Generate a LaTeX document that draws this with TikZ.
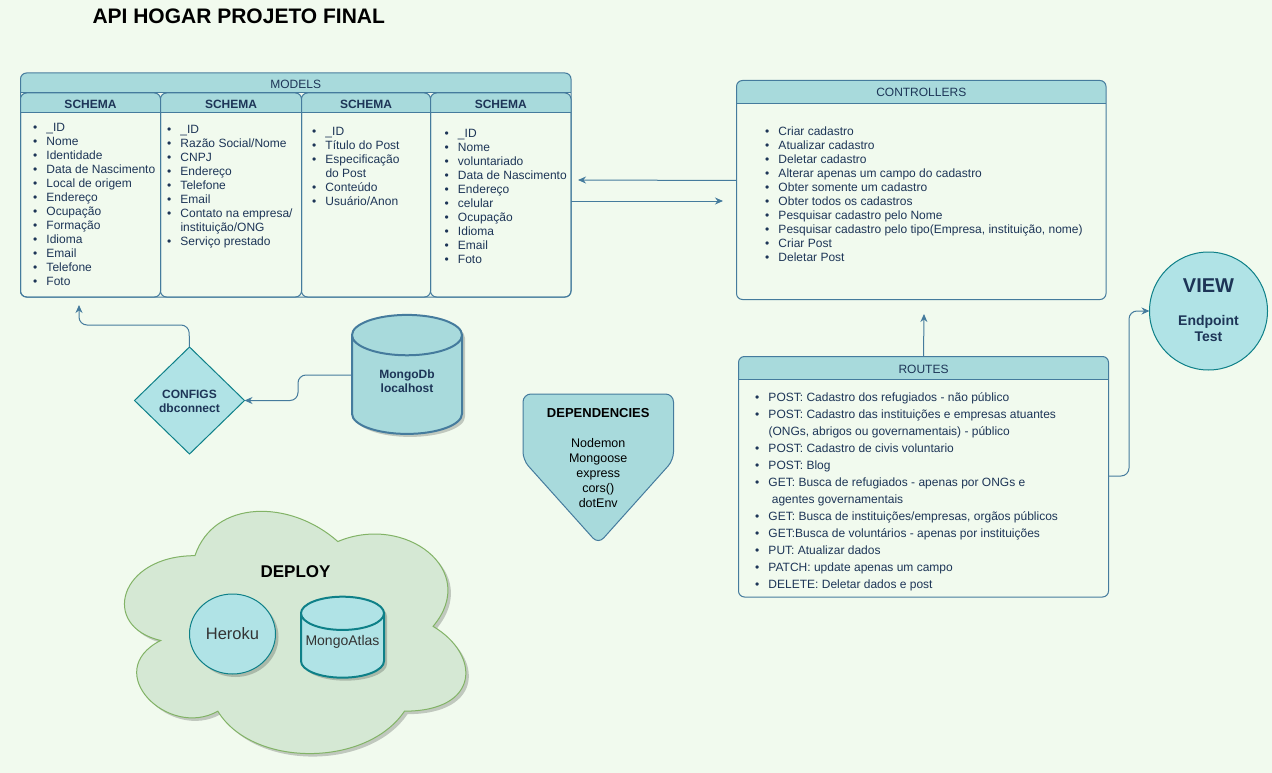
\documentclass[tikz,border=0pt]{standalone}
\usepackage{xcolor}
\usepackage{fontspec}
\setmainfont{Liberation Sans}
\usepackage{tikz}
\usetikzlibrary{arrows.meta,positioning,shapes.geometric,shadows}
\definecolor{pagebg}{HTML}{F1FAEE}
\definecolor{primary}{HTML}{457B9D}
\definecolor{lanefill}{HTML}{A8DADC}
\definecolor{inktext}{HTML}{1D3557}
\definecolor{tealfill}{HTML}{B0E3E6}
\definecolor{tealline}{HTML}{0E8088}
\definecolor{cloudfill}{HTML}{D5E8D4}
\definecolor{cloudline}{HTML}{82B366}
\newcommand{\itm}[1]{\makebox[12.5pt][l]{\hspace*{-1pt}\textbullet}#1}
\newcommand{\itmcont}[1]{\hspace*{12.5pt}#1}

\begin{document}
\begin{tikzpicture}[x=1pt, y=-1pt, line width=1pt, >={Stealth[length=8pt,width=7pt]}]
        % Styles
        \tikzset{softshadow/.style={drop shadow={shadow xshift=3pt, shadow yshift=-3pt, opacity=0.2, fill=black}}}
        \tikzset{lane/.style={rectangle, draw=primary, rounded corners=6pt, outer sep=0pt, inner sep=0pt, path picture={
            \fill[lanefill, sharp corners] (path picture bounding box.north west) rectangle ([yshift=-#1pt]path picture bounding box.north east);
            \draw[primary, sharp corners] ([yshift=-#1pt]path picture bounding box.north west) -- ([yshift=-#1pt]path picture bounding box.north east);}}}
        \tikzset{lanetitle/.style={inner sep=0pt, text=inktext, font=\fontsize{12}{14}\selectfont}}
        \tikzset{listtext/.style={anchor=north west, inner sep=0pt, align=left, text=inktext, font=\fontsize{12}{14}\selectfont}}
        \tikzset{boldtext/.style={align=center, text=inktext, font=\bfseries\fontsize{12}{14}\selectfont}}
        \tikzset{database/.style={cylinder, shape border rotate=90, draw=primary, fill=lanefill, line width=2pt, inner sep=0pt}}
        \tikzset{wire/.style={->, primary, rounded corners=8pt}}

        % Page
        \fill[pagebg] (0,0) rectangle (1272,773);
        \useasboundingbox (0,0) rectangle (1272,773);

        \node[anchor=west, inner sep=0pt, font=\bfseries\fontsize{21}{24}\selectfont] (heading) at (92,16) {API HOGAR PROJETO FINAL};

        % Models
        \node[lane=20, anchor=north west, minimum width=550.5pt, minimum height=224pt] (models) at (20.5,73) {};
        \node[lanetitle, minimum height=22pt, below=0pt of models.north] (modelstitle) {MODELS};
        \node[lane=20, anchor=north west, minimum width=140pt, minimum height=204pt] (schemaa) at (20.5,93) {};
        \node[lane=20, right=0pt of schemaa, minimum width=141pt, minimum height=204pt] (schemab) {};
        \node[lane=20, right=0pt of schemab, minimum width=129pt, minimum height=204pt] (schemac) {};
        \node[lane=20, right=0pt of schemac, minimum width=140.5pt, minimum height=204pt] (schemad) {};
        \node[lanetitle, minimum height=22pt, below=0pt of schemaa.north, font=\bfseries\fontsize{12}{14}\selectfont] (schemaatitle) {SCHEMA};
        \node[lanetitle, minimum height=22pt, below=0pt of schemab.north, font=\bfseries\fontsize{12}{14}\selectfont] (schemabtitle) {SCHEMA};
        \node[lanetitle, minimum height=22pt, below=0pt of schemac.north, font=\bfseries\fontsize{12}{14}\selectfont] (schemactitle) {SCHEMA};
        \node[lanetitle, minimum height=22pt, below=0pt of schemad.north, font=\bfseries\fontsize{12}{14}\selectfont] (schemadtitle) {SCHEMA};

        \node[listtext] (schemaalist) at (33.5,123) {\itm{\_ID}\\\itm{Nome}\\\itm{Identidade}\\\itm{Data de Nascimento}\\\itm{Local de origem}\\\itm{Endereço}\\\itm{Ocupação}\\\itm{Formação}\\\itm{Idioma}\\\itm{Email}\\\itm{Telefone}\\\itm{Foto}};
        \node[listtext] (schemablist) at (167.5,125) {\itm{\_ID}\\\itm{Razão Social/Nome}\\\itm{CNPJ}\\\itm{Endereço}\\\itm{Telefone}\\\itm{Email}\\\itm{Contato na empresa/}\\\itmcont{instituição/ONG}\\\itm{Serviço prestado}};
        \node[listtext] (schemaclist) at (312.5,127) {\itm{\_ID}\\\itm{Título do Post}\\\itm{Especificação}\\\itmcont{do Post}\\\itm{Conteúdo}\\\itm{Usuário/Anon}};
        \node[listtext] (schemadlist) at (445,129) {\itm{\_ID}\\\itm{Nome}\\\itm{voluntariado}\\\itm{Data de Nascimento}\\\itm{Endereço}\\\itm{celular}\\\itm{Ocupação}\\\itm{Idioma}\\\itm{Email}\\\itm{Foto}};

        % Controllers
        \node[lane=23, anchor=north west, minimum width=369.5pt, minimum height=219pt] (controllers) at (736.5,80.5) {};
        \node[lanetitle, minimum height=23pt, below=0pt of controllers.north] (controllerstitle) {CONTROLLERS};
        \node[listtext] (controllerslist) at (765.5,126) {\itm{Criar cadastro}\\\itm{Atualizar cadastro}\\\itm{Deletar cadastro}\\\itm{Alterar apenas um campo do cadastro}\\\itm{Obter somente um cadastro}\\\itm{Obter todos os cadastros}\\\itm{Pesquisar cadastro pelo Nome}\\\itm{Pesquisar cadastro pelo tipo(Empresa, instituição, nome)}\\\itm{Criar Post}\\\itm{Deletar Post}};

        % Routes
        \node[lane=23, anchor=north west, minimum width=370pt, minimum height=240.5pt] (routes) at (738.5,356.5) {};
        \node[lanetitle, minimum height=25pt, below=0pt of routes.north] (routestitle) {ROUTES};
        \node[listtext, font=\fontsize{12}{17}\selectfont] (routeslist) at (755.5,392) {\itm{POST: Cadastro dos refugiados - não público}\\\itm{POST: Cadastro das instituições e empresas atuantes}\\\itmcont{(ONGs, abrigos ou governamentais) - público}\\\itm{POST: Cadastro de civis voluntario}\\\itm{POST: Blog}\\\itm{GET: Busca de refugiados - apenas por ONGs e}\\\itmcont{\ agentes governamentais}\\\itm{GET: Busca de instituições/empresas, orgãos públicos}\\\itm{GET:Busca de voluntários - apenas por instituições}\\\itm{PUT: Atualizar dados}\\\itm{PATCH: update apenas um campo}\\\itm{DELETE: Deletar dados e post}};

        % View
        \node[circle, draw=tealline, fill=tealfill, minimum size=118pt, inner sep=0pt, outer sep=0pt, align=center, text=inktext, font=\bfseries\fontsize{14}{16}\selectfont] (view) at (1208.5,311) {{\fontsize{20}{23}\selectfont VIEW}\\[17pt]Endpoint\\Test\rule[-2pt]{0pt}{1pt}};

        % Configs and database
        \node[diamond, draw=tealline, fill=tealfill, minimum width=110pt, minimum height=107pt, inner sep=0pt, outer sep=0pt, boldtext] (configs) at (189.5,400.5) {\rule{0pt}{11pt}CONFIGS\\dbconnect};
        \node[database, softshadow, aspect=0.73, minimum width=110pt, minimum height=119pt, boldtext] (mongodb) at (407,385) {MongoDb\\localhost\rule[-7pt]{0pt}{1pt}};

        % Dependencies
        \draw[primary, fill=lanefill, rounded corners=8pt] (523,394) -- (673.5,394) -- (673.5,460) -- (598.25,544) -- (523,460) -- cycle;
        \node[align=center, inner sep=0pt, font=\fontsize{12.5}{15}\selectfont] (dependencies) at (598.25,458) {{\bfseries\fontsize{13}{15}\selectfont DEPENDENCIES}\\[15pt]Nodemon\\Mongoose\\express\\cors()\\dotEnv};

        % Deploy
        \begin{scope}[shift={(99.7,485)}, x=381pt, y=-282.7pt]
            \draw[cloudline, fill=cloudfill, softshadow] (0.25,0.25) .. controls (0.05,0.25) and (0,0.5) .. (0.16,0.55)
                .. controls (0,0.66) and (0.18,0.9) .. (0.31,0.8)
                .. controls (0.4,1) and (0.7,1) .. (0.8,0.8)
                .. controls (1,0.8) and (1,0.6) .. (0.875,0.5)
                .. controls (1,0.3) and (0.8,0.1) .. (0.625,0.2)
                .. controls (0.5,0.05) and (0.3,0.05) .. (0.25,0.25) -- cycle;
        \end{scope}
        \node[inner sep=0pt, font=\bfseries\fontsize{17}{20}\selectfont] (deploy) at (295.5,572) {DEPLOY};
        \node[ellipse, draw=tealline, fill=tealfill, softshadow, minimum width=86pt, minimum height=80pt, inner sep=0pt, text=black!80, font=\fontsize{16.5}{19}\selectfont] (heroku) at (232.5,634) {Heroku};
        \node[database, draw=tealline, fill=tealfill, softshadow, aspect=0.45, minimum width=83pt, minimum height=81pt, text=black!80, font=\fontsize{14}{16}\selectfont] (mongoatlas) at (342.5,646) {MongoAtlas\rule[-12pt]{0pt}{1pt}};

        % Connections
        \coordinate (controllerstip) at (578,180);
        \coordinate (modelstip) at (723,201);
        \coordinate (routestip) at (924,314);
        \coordinate (configstip) at (79,305);
        \draw[wire] ([yshift=9.5pt]controllers.west) -- (controllerstip);
        \draw[wire] ([yshift=-16pt]models.east) -- (modelstip);
        \draw[wire] (routes.north) -- (routestip);
        \draw[wire] (routes.east |- 0,476) -- (1129,476) -- (1129,311) -- (view.west);
        \draw[wire] (configs.north) -- (189,325) -- (79,325) -- (configstip);
        \draw[wire] (mongodb.west |- 0,375) -- (298,375) -- (298,400.5) -- (configs.east);
    \end{tikzpicture}
\end{document}
